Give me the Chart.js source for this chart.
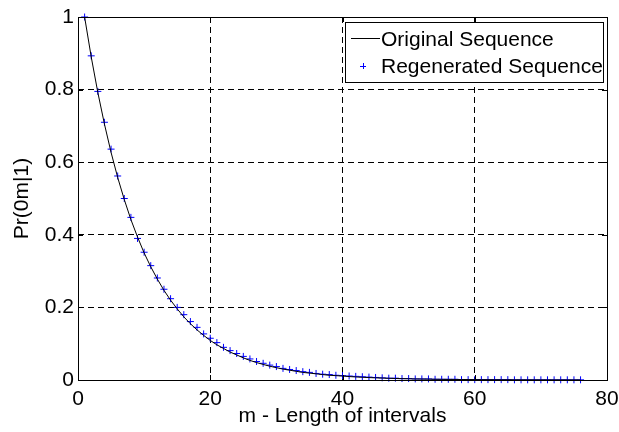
<!DOCTYPE html>
<html>
<head>
<meta charset="utf-8">
<script src="https://cdn.jsdelivr.net/npm/chart.js@4"></script>
<style>
  html, body { margin: 0; padding: 0; background: #fff; }
  #wrap { width: 619px; height: 432px; }
</style>
</head>
<body>
<div id="wrap"><canvas id="c" width="619" height="432"></canvas></div>
<script>
// Interval lengths m = 1..76
const mValues = [1,2,3,4,5,6,7,8,9,10,11,12,13,14,15,16,17,18,19,20,
  21,22,23,24,25,26,27,28,29,30,31,32,33,34,35,36,37,38,39,40,
  41,42,43,44,45,46,47,48,49,50,51,52,53,54,55,56,57,58,59,60,
  61,62,63,64,65,66,67,68,69,70,71,72,73,74,75,76];

// Original sequence Pr(0m|1)
const originalSeq = [1.000,0.890,0.792,0.705,0.627,0.558,0.497,0.442,0.394,0.350,
  0.312,0.278,0.247,0.220,0.196,0.174,0.155,0.138,0.123,0.109,
  0.097,0.087,0.077,0.069,0.061,0.054,0.048,0.043,0.038,0.034,
  0.030,0.027,0.024,0.021,0.019,0.017,0.015,0.013,0.012,0.011,
  0.0095,0.0084,0.0075,0.0067,0.0059,0.0053,0.0047,0.0042,0.0037,0.0033,
  0.0029,0.0026,0.0023,0.0021,0.0018,0.0016,0.0015,0.0013,0.0012,0.0010,
  0.0009,0.0008,0.0007,0.0006,0.0006,0.0005,0.0004,0.0004,0.0004,0.0003,
  0.0003,0.0003,0.0002,0.0002,0.0002,0.0002];

// Regenerated sequence Pr(0m|1)
const regeneratedSeq = [1.000,0.893,0.795,0.710,0.636,0.562,0.500,0.448,0.390,0.352,
  0.315,0.281,0.250,0.224,0.200,0.180,0.161,0.145,0.127,0.115,
  0.103,0.090,0.081,0.073,0.065,0.058,0.051,0.046,0.041,0.037,
  0.032,0.029,0.026,0.023,0.021,0.018,0.016,0.015,0.013,0.012,
  0.011,0.010,0.009,0.008,0.007,0.006,0.005,0.005,0.004,0.004,
  0.003,0.003,0.003,0.002,0.002,0.002,0.002,0.001,0.001,0.001,
  0.001,0.001,0.001,0.001,0.001,0.0005,0.0005,0.0005,0.0005,0.0005,
  0.0005,0.0005,0.0005,0.0005,0.0005,0.0005];

const xTicks = [0, 20, 40, 60, 80];
const yTicks = [0, 0.2, 0.4, 0.6, 0.8, 1];
const seriesNames = ['Original Sequence', 'Regenerated Sequence'];
const xTitle = 'm - Length of intervals';
const yTitle = 'Pr(0m|1)';

const FONT = 'Liberation Sans, Arial, Helvetica, sans-serif';
const FS = 21;

const origPts = mValues.map((m, i) => ({x: m, y: originalSeq[i]}));
const regenPts = mValues.map((m, i) => ({x: m, y: regeneratedSeq[i]}));

const boxPlugin = {
  id: 'matlabBox',
  afterDatasetsDraw(chart) {
    const {ctx, chartArea: a, scales} = chart;
    ctx.save();
    ctx.strokeStyle = '#000';
    ctx.lineWidth = 1;
    // inward ticks on all sides
    const tl = 5;
    ctx.beginPath();
    xTicks.forEach(v => {
      const px = Math.round(scales.x.getPixelForValue(v)) + 0.5;
      ctx.moveTo(px, a.bottom); ctx.lineTo(px, a.bottom - tl);
      ctx.moveTo(px, a.top); ctx.lineTo(px, a.top + tl);
    });
    yTicks.forEach(v => {
      const py = Math.round(scales.y.getPixelForValue(v)) + 0.5;
      ctx.moveTo(a.left, py); ctx.lineTo(a.left + tl, py);
      ctx.moveTo(a.right, py); ctx.lineTo(a.right - tl, py);
    });
    ctx.stroke();
    ctx.strokeRect(Math.round(a.left) + 0.5, Math.round(a.top) + 0.5,
      Math.round(a.right - a.left), Math.round(a.bottom - a.top));

    // legend
    const lx = 345.5, ly = 22.5, lw = 258, lh = 60;
    ctx.fillStyle = '#fff';
    ctx.fillRect(lx, ly, lw, lh);
    ctx.strokeRect(lx, ly, lw, lh);
    ctx.beginPath();
    ctx.moveTo(351, 38.5); ctx.lineTo(380, 38.5);
    ctx.stroke();
    ctx.strokeStyle = '#0000ff';
    ctx.beginPath();
    ctx.moveTo(360, 66.5); ctx.lineTo(366, 66.5);
    ctx.moveTo(363.5, 63); ctx.lineTo(363.5, 69);
    ctx.stroke();
    ctx.fillStyle = '#000';
    ctx.font = FS + 'px ' + FONT;
    ctx.textBaseline = 'middle';
    ctx.textAlign = 'left';
    ctx.fillText(seriesNames[0], 381, 40);
    ctx.fillText(seriesNames[1], 381, 67);
    ctx.restore();
  }
};

new Chart(document.getElementById('c'), {
  type: 'scatter',
  data: {
    datasets: [
      {
        label: seriesNames[0],
        data: origPts,
        showLine: true,
        borderColor: '#000',
        borderWidth: 1,
        pointRadius: 0,
        tension: 0,
        fill: false,
        clip: false
      },
      {
        label: seriesNames[1],
        data: regenPts,
        showLine: false,
        pointStyle: 'cross',
        pointRadius: 3.5,
        borderColor: '#0000ff',
        backgroundColor: '#0000ff',
        pointBorderWidth: 1,
        borderWidth: 1,
        clip: false
      }
    ]
  },
  options: {
    responsive: false,
    animation: false,
    devicePixelRatio: 1,
    layout: { padding: { top: 17, right: 12, left: 0, bottom: 0 } },
    plugins: {
      legend: { display: false },
      tooltip: { enabled: false }
    },
    scales: {
      x: {
        type: 'linear',
        min: 0, max: 80,
        afterBuildTicks: s => { s.ticks = xTicks.map(v => ({value: v})); },
        afterFit: s => { s.height = 52; s.paddingRight = 0; s.paddingLeft = 0; },
        grid: { color: '#000', lineWidth: 1, drawTicks: false },
        border: { display: false, dash: [6, 4] },
        ticks: { color: '#000', font: { family: FONT, size: FS }, padding: 7, maxRotation: 0 },
        title: { display: true, text: xTitle, color: '#000', font: { family: FONT, size: FS }, padding: { top: 0, bottom: 3 } }
      },
      y: {
        type: 'linear',
        min: 0, max: 1,
        afterBuildTicks: s => { s.ticks = yTicks.map(v => ({value: v})); },
        afterFit: s => { s.width = 78; },
        grid: { color: '#000', lineWidth: 1, drawTicks: false },
        border: { display: false, dash: [6, 4] },
        ticks: { color: '#000', font: { family: FONT, size: FS }, padding: 4,
          callback: v => String(v) },
        title: { display: true, text: yTitle, color: '#000', font: { family: FONT, size: FS }, padding: { top: 10, bottom: 0 } }
      }
    }
  },
  plugins: [boxPlugin]
});
</script>
</body>
</html>
